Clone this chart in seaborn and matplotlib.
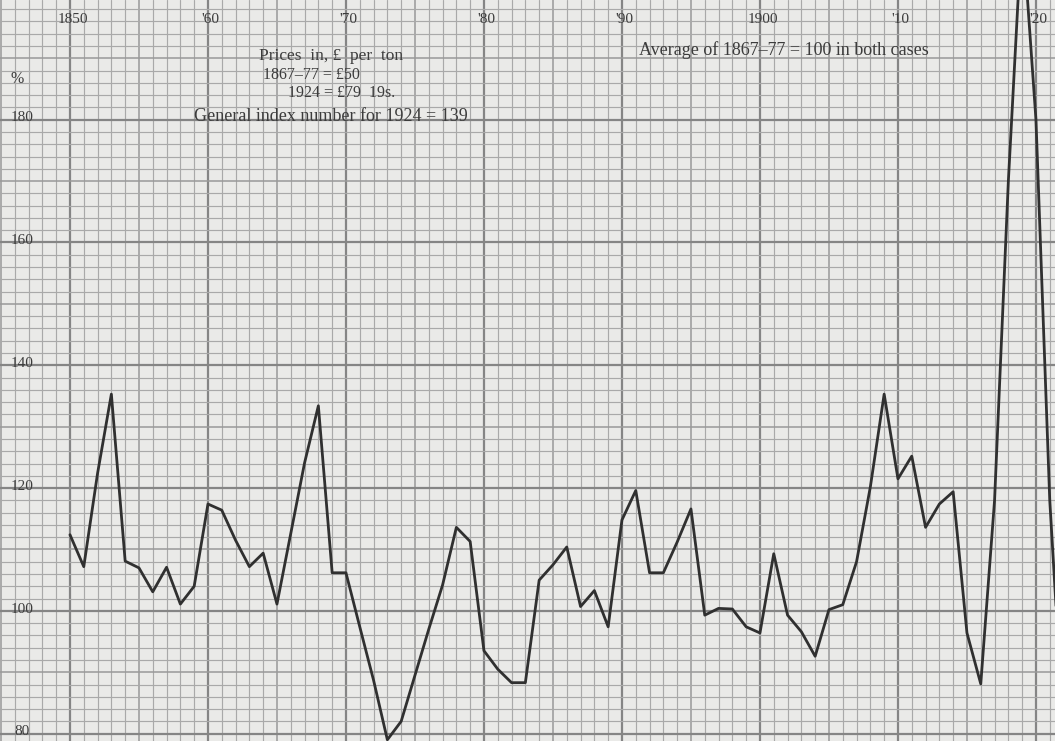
import numpy as np
import matplotlib
matplotlib.use("Agg")
import matplotlib.pyplot as plt
import seaborn as sns

# --- Data (index, average 1867-77 = 100) ---
years = list(range(1850, 1923))
index_values = [
    112.4, 107.2, 122.4, 135.3, 108.1, 107.0, 103.1, 107.1, 101.1, 104.0,   # 1850-59
    117.4, 116.4, 111.5, 107.2, 109.4, 101.1, 112.6, 124.1, 133.4, 106.2,   # 1860-69
    106.2, 97.4, 88.7, 79.0, 82.0, 89.5, 97.0, 104.2, 113.6, 111.3,         # 1870-79
    93.5, 90.5, 88.3, 88.3, 105.0, 107.5, 110.4, 100.7, 103.3, 97.4,        # 1880-89
    114.8, 119.6, 106.2, 106.2, 111.2, 116.6, 99.3, 100.4, 100.3, 97.4,     # 1890-99
    96.4, 109.3, 99.3, 96.6, 92.6, 100.2, 101.0, 108.0, 120.2, 135.3,       # 1900-09
    121.5, 125.2, 113.6, 117.4, 119.4, 96.4, 88.1, 118.0, 170.0, 212.0,     # 1910-19
    180.0, 118.0, 80.0,                                                     # 1920-22
]

year_ticks = [1850, 1860, 1870, 1880, 1890, 1900, 1910, 1920]
year_labels = ["1850", "'60", "'70", "'80", "'90", "1900", "'10", "'20"]
pct_ticks = [80, 100, 120, 140, 160, 180]

PAPER = "#eaeae8"
INK = "#3c3c3c"
LINE = "#303030"

sns.set_style("white")
plt.rcParams["font.family"] = ["Liberation Serif", "DejaVu Serif"]

fig = plt.figure(figsize=(10.55, 7.41), dpi=100, facecolor=PAPER)
ax = fig.add_axes([0, 0, 1, 1])
ax.set_facecolor(PAPER)

x_lo, x_hi = 1844.93, 1921.38
y_lo, y_hi = 78.8, 199.5
ax.set_xlim(x_lo, x_hi)
ax.set_ylim(y_lo, y_hi)

# graph-paper grid: 1 year / 2 points minor, heavier every 5/10 years and 10/20 points
for yr in range(1844, 1923):
    if yr % 10 == 0:
        lw, c = 1.6, "#858585"
    elif yr % 5 == 0:
        lw, c = 1.1, "#999999"
    else:
        lw, c = 0.85, "#a9a9a9"
    ax.axvline(yr, color=c, linewidth=lw, zorder=0)
for v in range(78, 202, 2):
    if v % 20 == 0:
        lw, c = 1.6, "#858585"
    elif v % 10 == 0:
        lw, c = 1.1, "#999999"
    else:
        lw, c = 0.85, "#a9a9a9"
    ax.axhline(v, color=c, linewidth=lw, zorder=0)

sns.lineplot(x=years, y=index_values, ax=ax, color=LINE, linewidth=2.0, zorder=3)

ax.set_xticks([])
ax.set_yticks([])
ax.set_xlabel("")
ax.set_ylabel("")
for s in ax.spines.values():
    s.set_visible(False)

# axis labels written on the paper
for yr, lab in zip(year_ticks, year_labels):
    ax.text(yr + 0.2, 196.3, lab, ha="center", va="center", fontsize=11, color=INK)
for v in pct_ticks:
    ax.text(1846.5, v + 0.3, str(v), ha="center", va="center", fontsize=11, color=INK)
ax.text(1846.2, 186.6, "%", ha="center", va="center", fontsize=11.5, color=INK)

# notes
ax.text(1868.9, 190.4, "Prices  in, £  per  ton", ha="center", va="center", fontsize=12.5, color=INK)
ax.text(1867.5, 187.3, "1867–77 = £50", ha="center", va="center", fontsize=11.5, color=INK)
ax.text(1869.7, 184.3, "1924 = £79  19s.", ha="center", va="center", fontsize=11.5, color=INK)
ax.text(1868.9, 180.6, "General index number for 1924 = 139", ha="center", va="center",
        fontsize=13, color=INK)
ax.text(1901.7, 191.3, "Average of 1867–77 = 100 in both cases", ha="center", va="center",
        fontsize=13, color=INK)

fig.savefig("out.png", dpi=100, facecolor=PAPER)
